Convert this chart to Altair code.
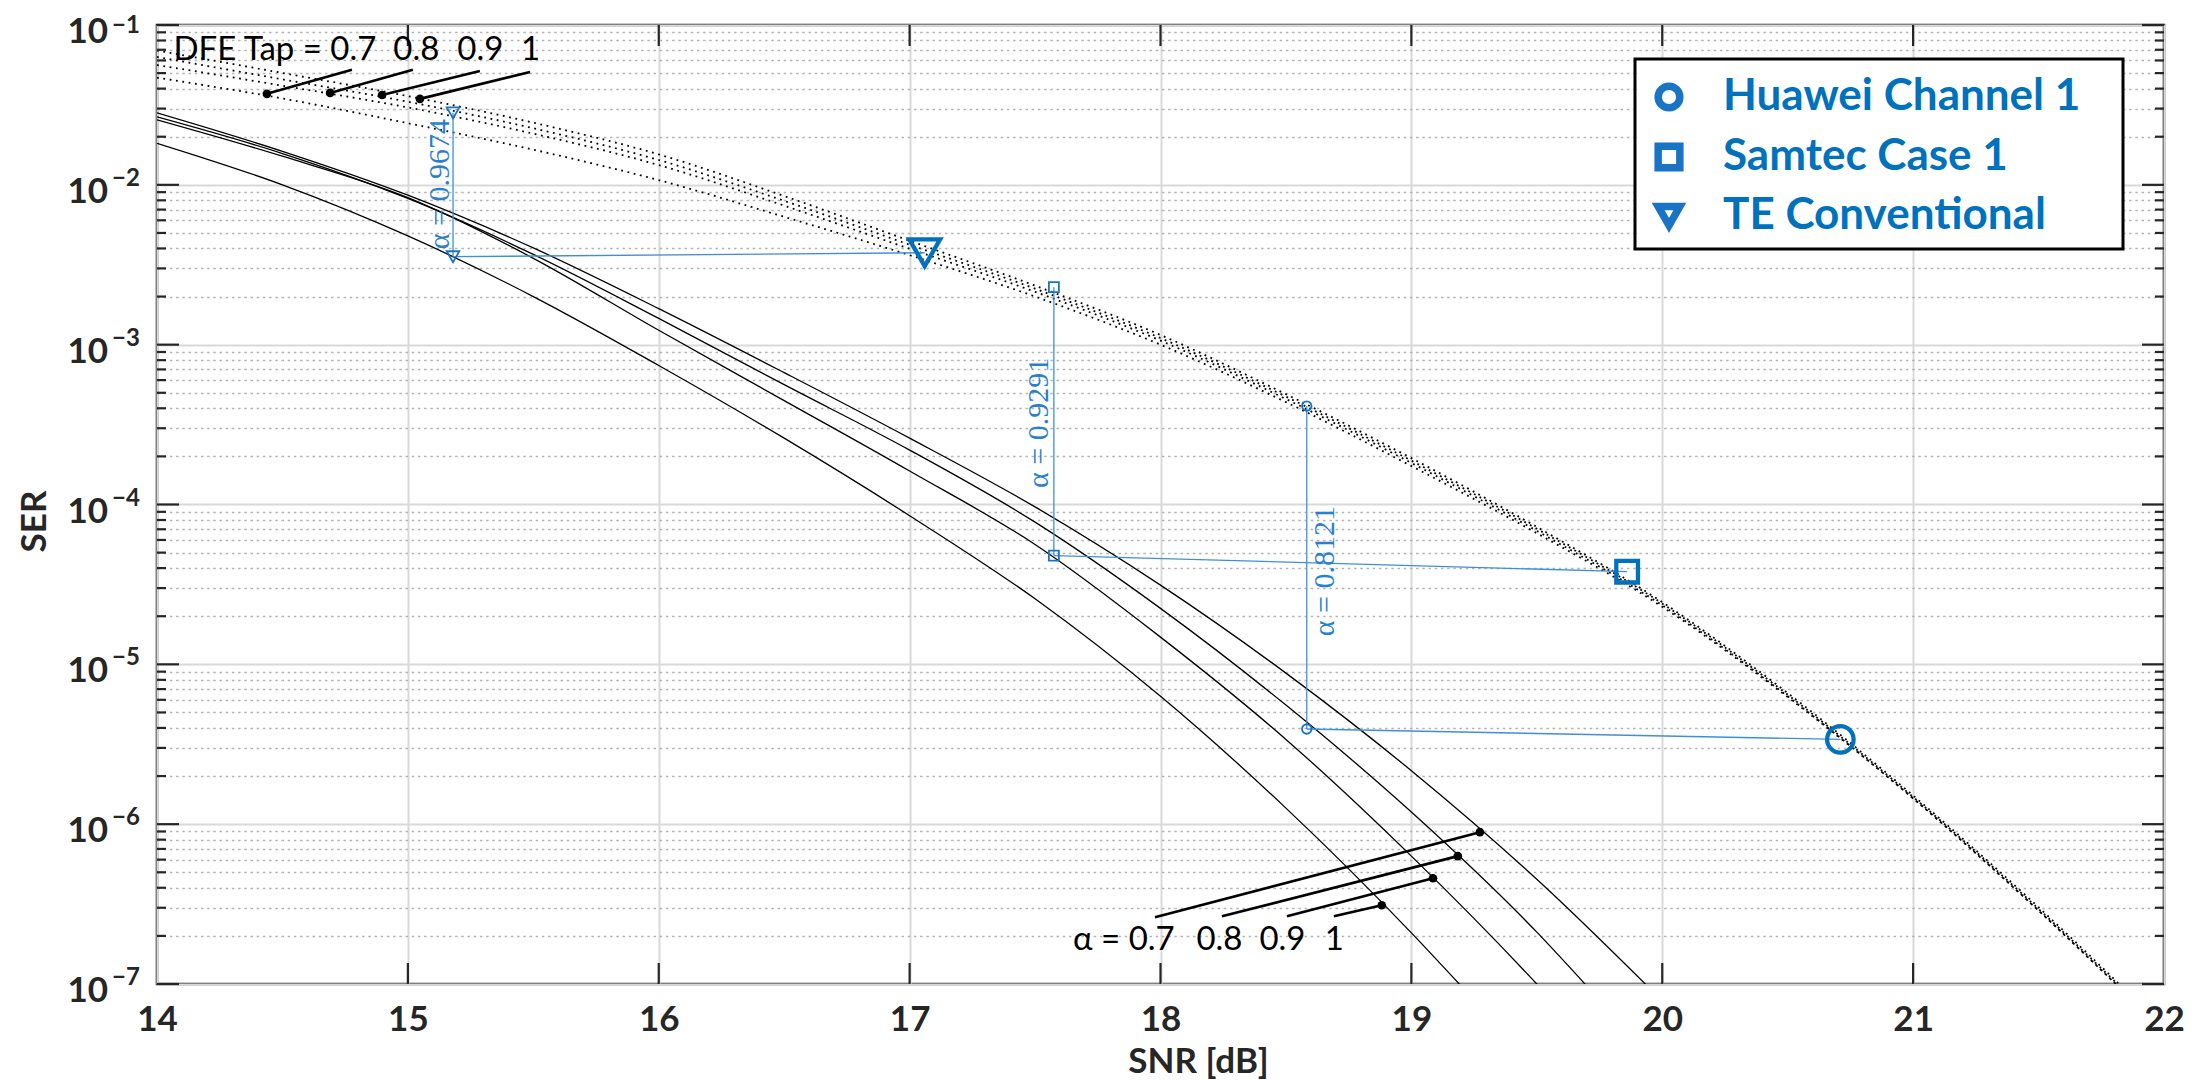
import altair as alt
import pandas as pd

# ---------------- axes ----------------
X_DOMAIN = [14, 22]
Y_DOMAIN = [1e-7, 1e-1]
x_tick_values = [14, 15, 16, 17, 18, 19, 20, 21, 22]
x_inner_ticks = [15, 16, 17, 18, 19, 20, 21]
y_decades = [1e-7, 1e-6, 1e-5, 1e-4, 1e-3, 1e-2, 1e-1]
y_exponents = ["−7", "−6", "−5", "−4", "−3", "−2", "−1"]
y_minor = [m * d for d in y_decades[:-1] for m in range(2, 10)]

# ---------------- solid curves: alpha = 0.7, 0.8, 0.9, 1 ----------------
snr_a07 = [14, 14.5, 15, 15.5, 16, 16.5, 17, 17.5, 18, 18.5, 19, 19.5, 20.0]
ser_a07 = [2.82e-2, 1.62e-2, 8.61e-3, 4.03e-3, 1.68e-3, 6.68e-4, 2.60e-4, 9.66e-5,
           3.13e-5, 8.81e-6, 2.16e-6, 4.52e-7, 7.85e-8]
snr_a08 = [14, 14.5, 15, 15.5, 16, 16.5, 17, 17.5, 18, 18.5, 19, 19.5, 19.75]
ser_a08 = [2.66e-2, 1.57e-2, 8.22e-3, 3.67e-3, 1.46e-3, 5.62e-4, 2.19e-4, 7.76e-5,
           2.24e-5, 5.56e-6, 1.19e-6, 2.11e-7, 7.94e-8]
snr_a09 = [14, 14.5, 15, 15.5, 16, 16.5, 17, 17.5, 18, 18.5, 19, 19.5, 19.6]
ser_a09 = [2.55e-2, 1.51e-2, 8.32e-3, 3.47e-3, 1.23e-3, 4.47e-4, 1.62e-4, 5.62e-5,
           1.48e-5, 3.39e-6, 6.31e-7, 1.00e-7, 6.76e-8]
snr_a10 = [14, 14.5, 15, 15.5, 16, 16.5, 17, 17.5, 18, 18.5, 19, 19.25]
ser_a10 = [1.82e-2, 1.00e-2, 4.79e-3, 2.00e-3, 7.41e-4, 2.60e-4, 8.51e-5, 2.57e-5,
           6.31e-6, 1.26e-6, 2.09e-7, 7.94e-8]

# ---------------- dotted curves: DFE tap = 0.7, 0.8, 0.9, 1 ----------------
snr_dfe = [14, 14.5, 15, 15.5, 16, 16.5, 17, 17.5, 18, 18.5, 19, 19.5, 20, 20.5, 21, 21.5, 21.9]
ser_dfe07 = [4.68e-2, 3.47e-2, 2.43e-2, 1.66e-2, 1.07e-2, 6.31e-3, 3.63e-3, 2.00e-3, 1.00e-3,
             4.37e-4, 1.74e-4, 6.61e-5, 2.29e-5, 6.24e-6, 1.45e-6, 2.88e-7, 7.24e-8]
ser_dfe08 = [5.62e-2, 4.17e-2, 3.05e-2, 2.09e-2, 1.33e-2, 7.41e-3, 3.98e-3, 2.14e-3, 1.06e-3,
             4.57e-4, 1.82e-4, 6.84e-5, 2.34e-5, 6.31e-6, 1.45e-6, 2.88e-7, 7.24e-8]
ser_dfe09 = [6.31e-2, 4.57e-2, 3.31e-2, 2.26e-2, 1.43e-2, 7.94e-3, 4.22e-3, 2.24e-3, 1.10e-3,
             4.73e-4, 1.88e-4, 7.05e-5, 2.40e-5, 6.46e-6, 1.48e-6, 2.95e-7, 7.41e-8]
ser_dfe10 = [6.92e-2, 5.01e-2, 3.59e-2, 2.45e-2, 1.55e-2, 8.51e-3, 4.47e-3, 2.34e-3, 1.15e-3,
             4.90e-4, 1.95e-4, 7.24e-5, 2.45e-5, 6.61e-6, 1.51e-6, 3.02e-7, 7.59e-8]

# ---------------- channel annotations ----------------
case_names = ["Huawei Channel 1", "Samtec Case 1", "TE Conventional"]
case_shapes = ["circle", "square", "triangle-down"]
case_alpha_text = ["α = 0.8121", "α = 0.9291", "α = 0.9674"]
case_snr_small = [18.583, 17.575, 15.18]      # SNR where the vertical drop is drawn
case_ser_top = [4.13e-4, 2.29e-3, 2.82e-2]    # on DFE-tap curve
case_ser_bottom = [3.94e-6, 4.79e-5, 3.55e-3] # on alpha curve
case_snr_big = [20.71, 19.86, 17.06]          # big marker
case_ser_big = [3.39e-6, 3.80e-5, 3.76e-3]
case_label_snr = [18.69, 17.551, 15.164]
case_label_ser = [3.83e-5, 3.24e-4, 1.01e-2]
big_sizes = [700, 470, 950]
small_sizes = [90, 100, 160]

# ---------------- label callouts ----------------
dfe_texts = ["DFE Tap = 0.7", "0.8", "0.9", "1"]
dfe_text_snr = [14.47, 15.034, 15.289, 15.489]
dfe_text_ser = 0.0698
dfe_lead_from_snr = [14.777, 15.02, 15.287, 15.487]
dfe_lead_from_ser = [0.0524, 0.0524, 0.0516, 0.0508]
dfe_lead_to_snr = [14.438, 14.69, 14.897, 15.048]
dfe_lead_to_ser = [0.0371, 0.0376, 0.0365, 0.0345]

alpha_texts = ["α = 0.7", "0.8", "0.9", "1"]
alpha_text_snr = [17.854, 18.235, 18.486, 18.693]
alpha_text_ser = 1.892e-7
alpha_lead_from_snr = [17.978, 18.245, 18.504, 18.691]
alpha_lead_from_ser = [2.62e-7, 2.65e-7, 2.65e-7, 2.65e-7]
alpha_lead_to_snr = [19.273, 19.185, 19.086, 18.882]
alpha_lead_to_ser = [8.91e-7, 6.31e-7, 4.59e-7, 3.11e-7]

# ---------------- styling ----------------
W, H = 2007, 959
INK = "#262626"
BLUE = "#0072BD"
LINE_BLUE = "#3f8fd8"
SMALL_BLUE = "#1a74c6"
LABEL_FONT = "Lato"
LEGEND_BOX = {"x": 1478, "x2": 1966, "y": 34, "y2": 224}   # legend frame, plot pixels

xs = alt.Scale(domain=X_DOMAIN, nice=False, zero=False)
ys = alt.Scale(type="log", domain=Y_DOMAIN, nice=False)

# ---------------- tables ----------------
def curve_frame(names, snrs, sers):
    rows = []
    for n, s, v in zip(names, snrs, sers):
        for a, b in zip(s, v):
            rows.append({"curve": n, "snr": a, "ser": b})
    return pd.DataFrame(rows)

solid_df = curve_frame(["a0.7", "a0.8", "a0.9", "a1"],
                       [snr_a07, snr_a08, snr_a09, snr_a10],
                       [ser_a07, ser_a08, ser_a09, ser_a10])
dotted_df = curve_frame(["d0.7", "d0.8", "d0.9", "d1"],
                        [snr_dfe] * 4,
                        [ser_dfe07, ser_dfe08, ser_dfe09, ser_dfe10])

cases_df = pd.DataFrame({
    "name": case_names, "shape": case_shapes, "txt": case_alpha_text,
    "snr_s": case_snr_small, "top": case_ser_top, "bot": case_ser_bottom,
    "snr_b": case_snr_big, "big": case_ser_big,
    "lx": case_label_snr, "ly": case_label_ser,
    "bsz": big_sizes, "ssz": small_sizes,
})
small_df = pd.concat([
    pd.DataFrame({"snr": case_snr_small, "ser": case_ser_top, "shape": case_shapes, "sz": small_sizes}),
    pd.DataFrame({"snr": case_snr_small, "ser": case_ser_bottom, "shape": case_shapes, "sz": small_sizes}),
])

lead_df = pd.DataFrame({
    "x1": dfe_lead_from_snr + alpha_lead_from_snr,
    "y1": dfe_lead_from_ser + alpha_lead_from_ser,
    "x2": dfe_lead_to_snr + alpha_lead_to_snr,
    "y2": dfe_lead_to_ser + alpha_lead_to_ser,
})
callout_df = pd.DataFrame({
    "t": dfe_texts + alpha_texts,
    "x": dfe_text_snr + alpha_text_snr,
    "y": [dfe_text_ser] * 4 + [alpha_text_ser] * 4,
})

ylab_df = pd.DataFrame({"v": y_decades, "e": y_exponents})
ymaj_df = pd.DataFrame({"v": y_decades})
ymin_df = pd.DataFrame({"v": y_minor})
xtick_df = pd.DataFrame({"v": x_inner_ticks})
box_df = pd.DataFrame({"k": [0]})

MAJOR_TEST = "abs(log(datum.value)/LN10 - round(log(datum.value)/LN10)) < 0.01"

x_axis = alt.Axis(
    values=x_tick_values, title="SNR [dB]", grid=True, ticks=False, domain=False,
    labelFont=LABEL_FONT, labelFontSize=35, labelFontWeight="bold", labelColor=INK,
    labelPadding=18, labelFlush=False, labelOverlap=False, labelBound=False,
    gridColor="#d9d9d9", gridWidth=2, gridOpacity=1,
    titleFont=LABEL_FONT, titleFontSize=35, titleFontWeight="bold", titleColor=INK,
    titleX=1041, titleY=77, titleBaseline="middle", titleAlign="center",
)
y_axis = alt.Axis(
    values=y_decades + y_minor, labels=False, ticks=False, domain=False, grid=True,
    gridColor={"condition": {"test": MAJOR_TEST, "value": "#d9d9d9"}, "value": "#b4b4b4"},
    gridDash={"condition": {"test": MAJOR_TEST, "value": []}, "value": [2.5, 3.7]},
    gridWidth={"condition": {"test": MAJOR_TEST, "value": 2}, "value": 1.6},
    gridOpacity=1,
    title="SER", titleFont=LABEL_FONT, titleFontSize=35, titleFontWeight="bold", titleColor=INK,
    titleAngle=270, titleX=-123, titleY=496, titleBaseline="middle", titleAlign="center",
)

# every layer carries the identical axis definition so that they merge cleanly
def X(field):
    return alt.X(field, type="quantitative", scale=xs, axis=x_axis)

def Y(field):
    return alt.Y(field, type="quantitative", scale=ys, axis=y_axis)

dotted = alt.Chart(dotted_df).mark_line(
    color="black", strokeWidth=1.8, strokeDash=[1.8, 4.6], clip=True, interpolate="monotone"
).encode(x=X("snr"), y=Y("ser"), detail="curve:N")

solid = alt.Chart(solid_df).mark_line(
    color="black", strokeWidth=1.3, clip=True, interpolate="monotone"
).encode(x=X("snr"), y=Y("ser"), detail="curve:N")

# inward ticks
tick_style = dict(color=INK, strokeWidth=2.2)
ymaj_l = alt.Chart(ymaj_df).mark_rule(**tick_style).encode(y=Y("v"), x=alt.value(0), x2=alt.value(22))
ymaj_r = alt.Chart(ymaj_df).mark_rule(**tick_style).encode(y=Y("v"), x=alt.value(W - 22), x2=alt.value(W))
ymin_l = alt.Chart(ymin_df).mark_rule(**tick_style).encode(y=Y("v"), x=alt.value(0), x2=alt.value(9))
ymin_r = alt.Chart(ymin_df).mark_rule(**tick_style).encode(y=Y("v"), x=alt.value(W - 9), x2=alt.value(W))
xt_b = alt.Chart(xtick_df).mark_rule(**tick_style).encode(x=X("v"), y=alt.value(H), y2=alt.value(H - 21))
xt_t = alt.Chart(xtick_df).mark_rule(**tick_style).encode(x=X("v"), y=alt.value(0), y2=alt.value(21))

# y tick labels "10" + exponent (the top exponent sits a little lower to stay on the page)
ylab10 = alt.Chart(ylab_df).mark_text(
    font=LABEL_FONT, fontSize=35, fontWeight="bold", color=INK, align="right", baseline="middle", dy=7
).encode(y=Y("v"), x=alt.value(-49), text=alt.value("10"))
exp_style = dict(font=LABEL_FONT, fontSize=24, fontWeight="bold", color=INK, align="left", baseline="middle")
ylabexp = alt.Chart(ylab_df).transform_filter("datum.v < 0.05").mark_text(
    dy=-6, **exp_style).encode(y=Y("v"), x=alt.value(-45), text="e:N")
ylabexp_top = alt.Chart(ylab_df).transform_filter("datum.v > 0.05").mark_text(
    dy=1, **exp_style).encode(y=Y("v"), x=alt.value(-45), text="e:N")

# annotation lines
vlines = alt.Chart(cases_df).mark_rule(color=LINE_BLUE, strokeWidth=1.3).encode(
    x=X("snr_s"), y=Y("top"), y2="bot")
hlines = alt.Chart(cases_df).mark_rule(color=LINE_BLUE, strokeWidth=1.3).encode(
    x=X("snr_s"), x2="snr_b", y=Y("bot"), y2="big")

small_marks = alt.Chart(small_df).mark_point(filled=False, opacity=1).encode(
    x=X("snr"), y=Y("ser"),
    shape=alt.Shape("shape:N", scale=None),
    size=alt.Size("sz:Q", scale=None),
    stroke=alt.value(SMALL_BLUE), strokeWidth=alt.value(1.8),
)

# legend frame
legend_frame = alt.Chart(box_df).mark_rect(fill="white", stroke="black", strokeWidth=3).encode(
    x=alt.value(LEGEND_BOX["x"]), x2=alt.value(LEGEND_BOX["x2"]),
    y=alt.value(LEGEND_BOX["y"]), y2=alt.value(LEGEND_BOX["y2"]),
)

big_marks = alt.Chart(cases_df).mark_point(filled=False, opacity=1).encode(
    x=X("snr_b"), y=Y("big"),
    shape=alt.Shape("name:N", scale=alt.Scale(domain=case_names, range=case_shapes),
                    legend=alt.Legend(
                        title=None, orient="none", legendX=1478, legendY=38,
                        padding=12, rowPadding=8, cornerRadius=0,
                        labelFont=LABEL_FONT, labelFontSize=44, labelFontWeight="bold",
                        labelColor=BLUE, labelOffset=32, labelLimit=800,
                        symbolSize=470, symbolStrokeWidth=7.5, symbolStrokeColor=BLUE,
                        symbolFillColor="white", symbolOffset=0,
                    )),
    size=alt.Size("bsz:Q", scale=None),
    stroke=alt.value(BLUE), strokeWidth=alt.value(4.3),
)

alpha_labels = alt.Chart(cases_df).mark_text(
    font="Liberation Serif", fontSize=30, color="#2a7fcf", angle=270,
    align="center", baseline="alphabetic"
).encode(x=X("lx"), y=Y("ly"), text="txt:N")

# black callouts
leaders = alt.Chart(lead_df).mark_rule(color="black", strokeWidth=2.6).encode(
    x=X("x1"), x2="x2", y=Y("y1"), y2="y2")
lead_dots = alt.Chart(lead_df).mark_circle(color="black", opacity=1, size=75).encode(
    x=X("x2"), y=Y("y2"))
callouts = alt.Chart(callout_df).mark_text(
    font=LABEL_FONT, fontSize=33, color="black", align="center", baseline="middle"
).encode(x=X("x"), y=Y("y"), text="t:N")

chart = alt.layer(
    dotted, solid,
    ymaj_l, ymaj_r, ymin_l, ymin_r, xt_b, xt_t,
    ylab10, ylabexp, ylabexp_top,
    vlines, hlines, small_marks, legend_frame, big_marks, alpha_labels,
    leaders, lead_dots, callouts,
).properties(
    width=W, height=H,
    autosize=alt.AutoSizeParams(type="none"),
    padding={"left": 149, "top": 17, "right": 23, "bottom": 96},
    background="white",
).configure_view(stroke=INK, strokeWidth=2.6)

chart.save("out.html", embed_options={"renderer": "svg", "actions": False})
